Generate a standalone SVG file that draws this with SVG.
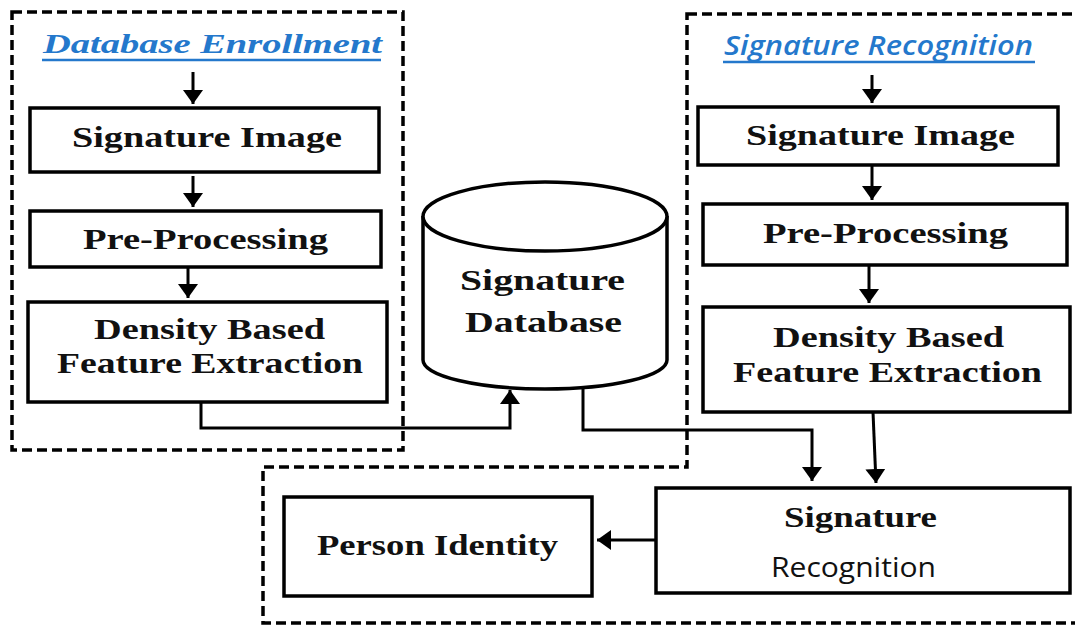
<svg xmlns="http://www.w3.org/2000/svg" width="1075" height="625" viewBox="0 0 1075 625">
  <defs>
    <marker id="arrow" markerUnits="userSpaceOnUse" markerWidth="16" markerHeight="20" refX="14" refY="10" orient="auto">
      <path d="M0,0 L14,10 L0,20 z" fill="#000"/>
    </marker>
    <style>
      .box { fill: #fff; stroke: #000; stroke-width: 3.5; }
      .dash { fill: none; stroke: #000; stroke-width: 3.5; stroke-dasharray: 10 5; }
      .conn { fill: none; stroke: #000; stroke-width: 3; }
      .lbl { font-family: "Liberation Serif", "Times New Roman", serif; font-weight: bold; font-size: 29px; fill: #111; }
      .cal { font-family: "Open Sans", "Liberation Sans", sans-serif; fill: #111; }
      .title { fill: #2478cc; }
      .ul { stroke: #2478cc; stroke-width: 2.5; }
    </style>
  </defs>
  <rect width="1075" height="625" fill="#fff"/>

  <g id="regions">
    <rect class="dash" x="12" y="12" width="391" height="438"/>
    <polygon class="dash" points="687,14 1082,14 1082,623 263,623 263,467 687,467"/>
  </g>

  <g id="title-enrollment">
    <text class="title" x="43" y="53" font-family="Liberation Serif, serif" font-weight="bold" font-style="italic" font-size="28" textLength="339" lengthAdjust="spacingAndGlyphs">Database Enrollment</text>
    <line class="ul" x1="42" y1="60" x2="381" y2="60"/>
  </g>
  <g id="title-recognition">
    <text class="title" x="724" y="55" font-family="Open Sans, Liberation Sans, sans-serif" font-weight="600" font-style="italic" font-size="27" textLength="309" lengthAdjust="spacingAndGlyphs">Signature Recognition</text>
    <line class="ul" x1="723" y1="62" x2="1035" y2="62"/>
  </g>

  <g id="connectors">
    <line class="conn" x1="193" y1="72" x2="193" y2="104" marker-end="url(#arrow)"/>
    <line class="conn" x1="193" y1="176" x2="193" y2="207" marker-end="url(#arrow)"/>
    <line class="conn" x1="188" y1="267" x2="188" y2="298" marker-end="url(#arrow)"/>
    <polyline class="conn" points="201,402 201,428 510,428 510,390" marker-end="url(#arrow)"/>
    <polyline class="conn" points="583,388 583,430 812,430 812,481" marker-end="url(#arrow)"/>
    <line class="conn" x1="872" y1="75" x2="872" y2="103" marker-end="url(#arrow)"/>
    <line class="conn" x1="872" y1="165" x2="872" y2="200" marker-end="url(#arrow)"/>
    <line class="conn" x1="869" y1="265" x2="869" y2="303" marker-end="url(#arrow)"/>
    <line class="conn" x1="873" y1="412" x2="876" y2="483" marker-end="url(#arrow)"/>
    <line class="conn" x1="656" y1="540" x2="597" y2="540" marker-end="url(#arrow)"/>
  </g>

  <g id="enroll-image">
    <rect class="box" x="30" y="108" width="349" height="64"/>
    <text class="lbl" x="72" y="147" textLength="270" lengthAdjust="spacingAndGlyphs">Signature Image</text>
  </g>
  <g id="enroll-pre">
    <rect class="box" x="30" y="211" width="351" height="56"/>
    <text class="lbl" x="83" y="249" textLength="245" lengthAdjust="spacingAndGlyphs">Pre-Processing</text>
  </g>
  <g id="enroll-feature">
    <rect class="box" x="28" y="302" width="359" height="100"/>
    <text class="lbl" x="94" y="339" textLength="231" lengthAdjust="spacingAndGlyphs">Density Based</text>
    <text class="lbl" x="57" y="373" textLength="306" lengthAdjust="spacingAndGlyphs">Feature Extraction</text>
  </g>

  <g id="database">
    <path class="box" d="M423,216 L423,360 A122,29 0 0 0 667,360 L667,216"/>
    <ellipse class="box" cx="545" cy="216.5" rx="122" ry="34.5"/>
    <text class="lbl" x="460" y="290" textLength="165" lengthAdjust="spacingAndGlyphs">Signature</text>
    <text class="lbl" x="465" y="332" textLength="157" lengthAdjust="spacingAndGlyphs">Database</text>
  </g>

  <g id="recog-image">
    <rect class="box" x="698" y="107" width="360" height="58"/>
    <text class="lbl" x="746" y="145" textLength="269" lengthAdjust="spacingAndGlyphs">Signature Image</text>
  </g>
  <g id="recog-pre">
    <rect class="box" x="703" y="204" width="364" height="61"/>
    <text class="lbl" x="763" y="243" textLength="245" lengthAdjust="spacingAndGlyphs">Pre-Processing</text>
  </g>
  <g id="recog-feature">
    <rect class="box" x="703" y="307" width="367" height="105"/>
    <text class="lbl" x="773" y="347" textLength="231" lengthAdjust="spacingAndGlyphs">Density Based</text>
    <text class="lbl" x="733" y="382" textLength="309" lengthAdjust="spacingAndGlyphs">Feature Extraction</text>
  </g>

  <g id="signature-recognition">
    <rect class="box" x="656" y="488" width="414" height="105"/>
    <text class="lbl" x="784" y="527" textLength="153" lengthAdjust="spacingAndGlyphs">Signature</text>
    <text class="cal" x="771" y="577" font-size="28" font-weight="500" textLength="165" lengthAdjust="spacingAndGlyphs">Recognition</text>
  </g>

  <g id="person-identity">
    <rect class="box" x="284" y="497" width="308" height="99"/>
    <text class="lbl" x="317" y="555" textLength="241" lengthAdjust="spacingAndGlyphs">Person Identity</text>
  </g>
</svg>
